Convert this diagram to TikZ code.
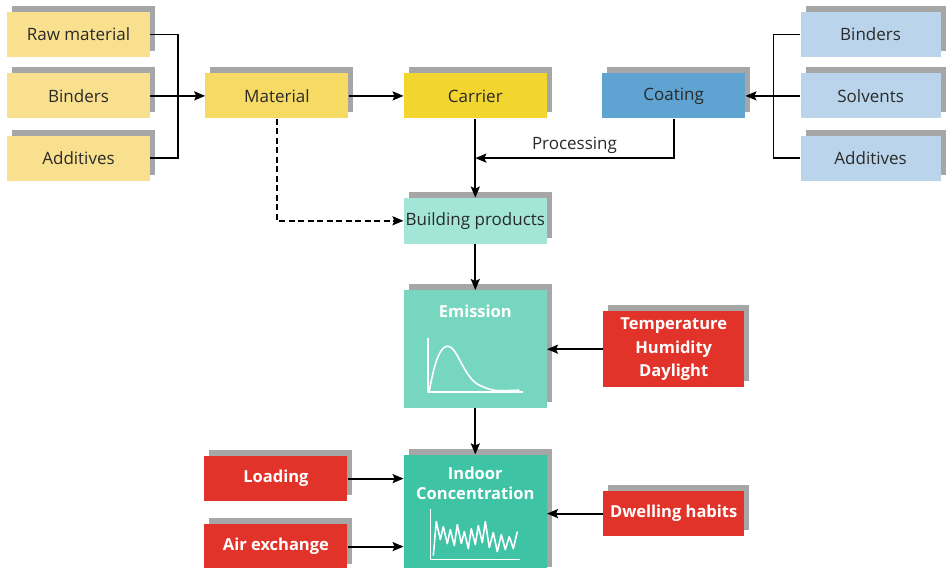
\documentclass[tikz,border=0pt]{standalone}
\usepackage{fontspec}
\setmainfont{Open Sans}
\usetikzlibrary{positioning,calc,shadows,arrows.meta}

\definecolor{paleyellow}{HTML}{F8E08E}
\definecolor{matyellow}{HTML}{F6DA63}
\definecolor{carryellow}{HTML}{F2D52E}
\definecolor{coatblue}{HTML}{5FA3D3}
\definecolor{paleblue}{HTML}{BAD5EB}
\definecolor{buildgreen}{HTML}{A3E6D7}
\definecolor{emitgreen}{HTML}{76D6BF}
\definecolor{indoorgreen}{HTML}{3EC3A5}
\definecolor{factorred}{HTML}{E2332B}
\definecolor{shadowgray}{HTML}{A6A6A6}
\definecolor{darktext}{HTML}{2A2A2A}

\tikzset{
  box/.style={rectangle,minimum width=143pt,minimum height=45pt,inner sep=2pt,
    text=darktext,font=\fontsize{17}{23}\selectfont,align=center,
    drop shadow={shadow xshift=5pt,shadow yshift=6pt,fill=shadowgray,opacity=1}},
  redbox/.style={box,fill=factorred,text=white,font=\fontsize{16.5}{23.5}\selectfont\bfseries},
  whitetext/.style={text=white,font=\fontsize{16.5}{20}\selectfont\bfseries,align=center},
  line/.style={line width=1.8pt,draw=black},
  arr/.style={line,-{Stealth[length=11pt,width=9pt,inset=2pt]}},
  curve/.style={white,line width=1.6pt,line join=round}
}

\begin{document}
\begin{tikzpicture}
\useasboundingbox (0,0) rectangle (946pt,-568pt);
\node[box,fill=paleyellow] (rawmat) at (78.5pt,-34.5pt) {Raw material};
\node[box,fill=paleyellow,below=16pt of rawmat] (lbinders) {Binders};
\node[box,fill=paleyellow,below=17pt of lbinders] (ladditives) {Additives};
\node[box,fill=matyellow,right=55pt of lbinders] (material) {Material};
\node[box,fill=carryellow,right=55pt of material] (carrier) {Carrier};
\node[box,fill=coatblue,right=55pt of carrier] (coating) {Coating};
\node[box,fill=paleblue,minimum width=140pt,right=55pt of coating] (solvents) {Solvents};
\node[box,fill=paleblue,minimum width=140pt,above=16pt of solvents] (rbinders) {Binders};
\node[box,fill=paleblue,minimum width=140pt,below=17pt of solvents] (radditives) {Additives};
\draw[line] (rawmat.east) -- ++(28pt,0) |- (ladditives.east);
\draw[arr] (lbinders) -- (material);
\draw[arr] (material) -- (carrier);
\draw[line] (rbinders.west) -- ++(-27pt,0) |- (radditives.west);
\draw[arr] (solvents) -- (coating);

\node[box,fill=buildgreen,minimum height=46pt,below=79pt of carrier] (building) {Building products};
\coordinate (merge) at ($(carrier.south)!0.5!(building.north)$);
\draw[arr] (carrier) -- (building);
\draw[arr] (coating.south) |- (merge) node[pos=0.75,above,text=darktext,font=\fontsize{17}{20}\selectfont] (proclabel) {Processing};
\draw[arr,dash pattern=on 6pt off 3.5pt] (material) |- (building);

\node[box,fill=emitgreen,minimum height=118pt,below=46pt of building] (emission) {};
\node[whitetext] (emtitle) at ([yshift=-21pt]emission.north) {Emission};
\node[redbox,minimum width=141pt,minimum height=76pt,right=56pt of emission] (climate) {Temperature\\Humidity\\Daylight};
\draw[arr] (building) -- (emission);
\draw[arr] (climate) -- (emission);
\begin{scope}[shift={(emission.center)}]
  \draw[curve] (-47.5pt,11pt) -- (-47.5pt,-43pt) -- (47.5pt,-43pt);
  \draw[curve] (-46pt,-42pt) .. controls (-40pt,-8pt) and (-34pt,3pt) .. (-27.5pt,3pt)
    .. controls (-18pt,3pt) and (-12pt,-28pt) .. (4pt,-36pt)
    .. controls (18pt,-42pt) .. (44pt,-41pt);
\end{scope}

\node[box,fill=indoorgreen,minimum height=118pt,below=46pt of emission] (indoor) {};
\node[whitetext] (intitle) at ([yshift=-29pt]indoor.north) {Indoor\\Concentration};
\node[redbox,left=56pt of indoor,yshift=35pt] (loading) {Loading};
\node[redbox,minimum height=46pt,left=56pt of indoor,yshift=-33pt] (airex) {Air exchange};
\node[redbox,minimum width=141pt,right=56pt of indoor] (dwelling) {Dwelling habits};
\draw[arr] (emission) -- (indoor);
\draw[arr] (loading) -- (loading -| indoor.west);
\draw[arr] (airex) -- (airex -| indoor.west);
\draw[arr] (dwelling) -- (indoor);
\begin{scope}[shift={(indoor.center)}]
  \draw[curve] (-45pt,5pt) -- (-45pt,-46pt) -- (45pt,-46pt);
  \draw[curve] plot coordinates {(-42pt,-42pt) (-39pt,-8pt) (-35pt,-26pt) (-32pt,-13pt)
    (-28pt,-30pt) (-25pt,-16pt) (-21pt,-32pt) (-18pt,-11pt) (-14pt,-30pt) (-11pt,-18pt)
    (-7pt,-35pt) (-4pt,-15pt) (0pt,-31pt) (3pt,-12pt) (7pt,-29pt) (10pt,-8pt)
    (14pt,-34pt) (18pt,-19pt) (22pt,-38pt) (26pt,-21pt) (30pt,-36pt) (34pt,-23pt)
    (38pt,-35pt) (42pt,-18pt)};
\end{scope}
\end{tikzpicture}
\end{document}
